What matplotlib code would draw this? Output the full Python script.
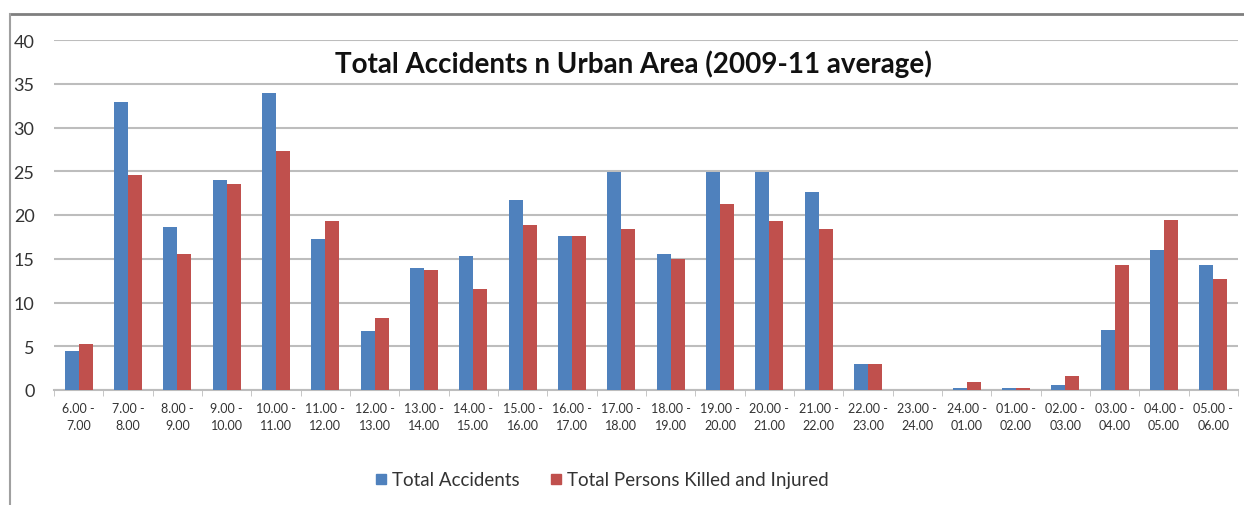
import matplotlib
matplotlib.use("Agg")
import matplotlib.pyplot as plt
from matplotlib.lines import Line2D
import numpy as np

# Chart data
time_slots = ["6.00 -\n7.00", "7.00 -\n8.00", "8.00 -\n9.00", "9.00 -\n10.00",
              "10.00 -\n11.00", "11.00 -\n12.00", "12.00 -\n13.00", "13.00 -\n14.00",
              "14.00 -\n15.00", "15.00 -\n16.00", "16.00 -\n17.00", "17.00 -\n18.00",
              "18.00 -\n19.00", "19.00 -\n20.00", "20.00 -\n21.00", "21.00 -\n22.00",
              "22.00 -\n23.00", "23.00 -\n24.00", "24.00 -\n01.00", "01.00 -\n02.00",
              "02.00 -\n03.00", "03.00 -\n04.00", "04.00 -\n05.00", "05.00 -\n06.00"]
total_accidents = [4.5, 32.9, 18.6, 24.0, 34.0, 17.3, 6.7, 14.0, 15.3, 21.7, 17.6, 24.9,
                   15.5, 24.9, 24.9, 22.6, 3.0, 0.0, 0.23, 0.27, 0.53, 6.9, 16.0, 14.3]
killed_injured = [5.3, 24.6, 15.6, 23.6, 27.3, 19.35, 8.25, 13.7, 11.6, 18.9, 17.6, 18.4,
                  15.0, 21.3, 19.35, 18.4, 3.0, 0.0, 0.95, 0.27, 1.56, 14.3, 19.4, 12.7]
series_names = ["Total Accidents", "Total Persons Killed and Injured"]

blue = "#4F81BD"
red = "#C0504D"

plt.rcParams['font.family'] = ['Lato', 'DejaVu Sans']

fig = plt.figure(figsize=(12.44, 5.06), dpi=100)
ax = fig.add_axes([54 / 1244, 1 - 391 / 506, (1238 - 54) / 1244, 350 / 506])

x = np.arange(len(time_slots))
w = 0.284
ax.bar(x - w / 2, total_accidents, w, color=blue, zorder=3)
ax.bar(x + w / 2, killed_injured, w, color=red, zorder=3)

ax.set_xlim(-0.5, len(time_slots) - 0.5)
ax.set_ylim(0, 40)
ax.set_yticks(range(0, 41, 5))
ax.yaxis.grid(True, color="#BDBDBD", linewidth=1.5, zorder=0)
ax.set_axisbelow(True)
for s in ["top", "right", "left"]:
    ax.spines[s].set_visible(False)
ax.spines["bottom"].set_color("#BDBDBD")
ax.spines["bottom"].set_linewidth(1.5)

ax.set_xticks(x)
ax.set_xticklabels(time_slots, fontsize=9, color="#333333", linespacing=1.45)
ax.set_xticks(np.arange(-0.5, len(time_slots)), minor=True)
ax.tick_params(axis="x", which="major", length=0, pad=9)
ax.tick_params(axis="x", which="minor", length=4, color="#BDBDBD")
ax.tick_params(axis="y", length=0, labelsize=13, colors="#333333", pad=14)

ax.text((633 - 54) / 1184, 0.935, "Total Accidents n Urban Area (2009-11 average)",
        transform=ax.transAxes, ha="center", va="center", fontsize=20, fontweight="bold",
        color="#111111")

# square legend keys like the Excel original
handles = [Line2D([], [], marker="s", linestyle="none", markersize=7, color=c)
           for c in (blue, red)]
fig.legend(handles, series_names, loc="center", bbox_to_anchor=(602 / 1244, 1 - 481 / 506),
           ncol=2, frameon=False, fontsize=13.5, handlelength=0.6, columnspacing=1.6,
           handletextpad=0.3, labelcolor="#333333")

# chart area border (top and left edges visible in the reference)
fig.add_artist(Line2D([10 / 1244, 1], [1 - 15 / 506] * 2, color="#7F7F7F", linewidth=2))
fig.add_artist(Line2D([10 / 1244] * 2, [0, 1 - 15 / 506], color="#A0A0A0", linewidth=1.5))

fig.savefig("out.png", dpi=100)
